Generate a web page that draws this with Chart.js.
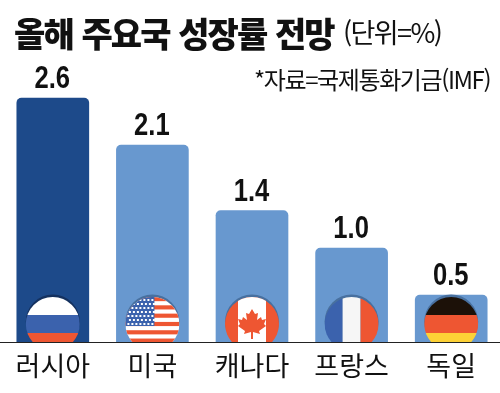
<!DOCTYPE html>
<html lang="ko">
<head>
<meta charset="utf-8">
<script src="https://cdn.jsdelivr.net/npm/chart.js@4"></script>
<style>
    html, body { margin: 0; padding: 0; background: #fff; overflow: hidden; }
    #wrap { position: relative; width: 500px; height: 393px; overflow: hidden; }
    #chartBox { position: absolute; left: 0; top: 0; width: 501px; height: 393px; }
    .txt { position: absolute; white-space: nowrap; font-family: "Noto Sans CJK KR"; color: #111; }
    #title { left: 14px; top: 9px; font-size: 34px; line-height: 48px; font-weight: 900; letter-spacing: -1.9px; word-spacing: 1px; }
    #unit { left: 343px; top: 12px; font-size: 27px; line-height: 40px; font-weight: 400; letter-spacing: -1.6px; }
    #source { left: 254px; top: 61px; font-size: 24px; line-height: 36px; font-weight: 400; letter-spacing: -1.4px; }
</style>
</head>
<body>
<div id="wrap">
    <div id="chartBox"><canvas id="growthChart"></canvas></div>
    <div class="txt" id="title">올해 주요국 성장률 전망</div>
    <div class="txt" id="unit">(단위=%)</div>
    <div class="txt" id="source">*자료=국제통화기금(IMF)</div>
</div>
<script>
const countries = ['러시아', '미국', '캐나다', '프랑스', '독일'];
const growth = [2.6, 2.1, 1.4, 1.0, 0.5];
const barColors = ['#1d4a8a', '#6898cf', '#6898cf', '#6898cf', '#6898cf'];
const flags = ['russia', 'usa', 'canada', 'france', 'germany'];

const RED = '#ee5632';
const BLUE = '#3b62ad';
const WHITE = '#f6f6f6';

function bands(ctx, x, y, colors, horizontal) {
    const r = 27;
    colors.forEach(function (c, i) {
        ctx.fillStyle = c;
        if (horizontal) {
            ctx.fillRect(x - r, y - r + i * 18, r * 2, 18);
        } else {
            ctx.fillRect(x - r + i * 18, y - r, 18, r * 2);
        }
    });
}

function drawUsa(ctx, x, y) {
    const r = 27;
    const stripe = 54 / 13;
    ctx.fillStyle = '#fff';
    ctx.fillRect(x - r, y - r, r * 2, r * 2);
    ctx.fillStyle = RED;
    for (let i = 0; i < 13; i += 2) {
        ctx.fillRect(x - r, y - r + i * stripe, r * 2, stripe);
    }
    ctx.fillStyle = BLUE;
    ctx.fillRect(x - r, y - r, 29, 29);
    ctx.fillStyle = '#fff';
    for (let row = 0; row < 7; row++) {
        for (let col = 0; col < 7; col++) {
            ctx.fillRect(x - r + 2 + col * 4 + (row % 2) * 1.5, y - r + 2 + row * 4, 2, 2);
        }
    }
}

function drawCanada(ctx, x, y) {
    const r = 27;
    ctx.fillStyle = RED;
    ctx.fillRect(x - r, y - r, r * 2, r * 2);
    ctx.fillStyle = '#fff';
    ctx.fillRect(x - 14, y - r, 28, r * 2);
    // 단풍잎
    const leaf = [[0, -14], [3, -9], [6, -10], [5, -3], [9, -6], [10, -3], [14, -4], [12, 1], [14, 3], [7, 8], [8, 11], [1, 9], [1, 16], [-1, 16], [-1, 9], [-8, 11], [-7, 8], [-14, 3], [-12, 1], [-14, -4], [-10, -3], [-9, -6], [-5, -3], [-6, -10], [-3, -9]];
    ctx.fillStyle = RED;
    ctx.beginPath();
    leaf.forEach(function (p, i) {
        if (i === 0) {
            ctx.moveTo(x + p[0], y + p[1] - 1);
        } else {
            ctx.lineTo(x + p[0], y + p[1] - 1);
        }
    });
    ctx.closePath();
    ctx.fill();
}

const flagPlugin = {
    id: 'flagPlugin',
    afterDatasetsDraw(chart) {
        const ctx = chart.ctx;
        const base = chart.scales.y.getPixelForValue(0);
        const y = base - 18;
        chart.getDatasetMeta(0).data.forEach(function (bar, i) {
            const x = bar.x;
            ctx.save();
            ctx.beginPath();
            ctx.rect(0, 0, chart.width, base);
            ctx.clip();

            // 위쪽 그림자
            ctx.fillStyle = i === 0 ? '#14315f' : '#48709f';
            ctx.beginPath();
            ctx.arc(x, y - 2.5, 27, 0, Math.PI * 2);
            ctx.fill();

            ctx.beginPath();
            ctx.arc(x, y, 27, 0, Math.PI * 2);
            ctx.clip();

            if (flags[i] === 'russia') {
                bands(ctx, x, y, ['#fff', BLUE, RED], true);
            } else if (flags[i] === 'usa') {
                drawUsa(ctx, x, y);
            } else if (flags[i] === 'canada') {
                drawCanada(ctx, x, y);
            } else if (flags[i] === 'france') {
                bands(ctx, x, y, [BLUE, WHITE, RED], false);
            } else {
                bands(ctx, x, y, ['#1c1108', RED, '#fdd136'], true);
            }
            ctx.restore();
        });
    }
};

const valuePlugin = {
    id: 'valuePlugin',
    afterDatasetsDraw(chart) {
        const ctx = chart.ctx;
        ctx.save();
        ctx.font = 'bold 32px "Liberation Sans"';
        ctx.fillStyle = '#111';
        ctx.textAlign = 'center';
        ctx.textBaseline = 'alphabetic';
        chart.getDatasetMeta(0).data.forEach(function (bar, i) {
            // 좁은 글꼴이 없어서 가로로 줄여 쓴다
            ctx.save();
            ctx.translate(bar.x - 0.5, bar.y - 10);
            ctx.scale(0.8, 1);
            ctx.fillText(growth[i].toFixed(1), 0, 0);
            ctx.restore();
        });
        ctx.restore();
    }
};

const baselinePlugin = {
    id: 'baselinePlugin',
    afterDraw(chart) {
        const ctx = chart.ctx;
        const base = Math.round(chart.scales.y.getPixelForValue(0));
        ctx.save();
        ctx.fillStyle = '#222';
        ctx.fillRect(0, base, chart.width, 1);
        ctx.restore();
    }
};

var ctx = document.getElementById('growthChart').getContext('2d');

var growthChart = new Chart(ctx, {
    type: 'bar',
    data: {
        labels: countries,
        datasets: [
            {
                label: '성장률',
                data: growth,
                backgroundColor: barColors,
                barThickness: 72,
                borderRadius: { topLeft: 5, topRight: 5 },
                borderSkipped: 'bottom'
            }
        ]
    },
    options: {
        responsive: true,
        maintainAspectRatio: false,
        animation: false,
        layout: { padding: { left: 3, right: 0, top: 0, bottom: 0 } },
        plugins: {
            legend: { display: false },
            title: { display: false },
            tooltip: { enabled: false }
        },
        scales: {
            x: {
                grid: { display: false, drawTicks: false },
                border: { display: false },
                afterFit(scale) {
                    scale.height = 51;
                },
                ticks: {
                    color: '#111',
                    padding: 8,
                    maxRotation: 0,
                    font: { size: 27, family: '"Noto Sans CJK KR"' }
                }
            },
            y: {
                display: false,
                min: 0,
                max: 3.646
            }
        }
    },
    plugins: [flagPlugin, valuePlugin, baselinePlugin]
});
</script>
</body>
</html>
